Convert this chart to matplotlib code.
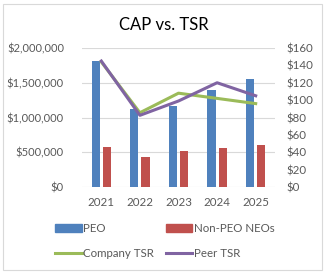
import matplotlib.pyplot as plt
import numpy as np
from matplotlib.patches import Rectangle
from matplotlib.lines import Line2D

# data
years = ['2021', '2022', '2023', '2024', '2025']
peo = [1817000, 1122000, 1170000, 1396000, 1554000]
non_peo = [580000, 436000, 522000, 565000, 609000]
company_tsr = [144, 85.5, 108, 102, 96]
peer_tsr = [145, 82.5, 99, 120, 105]

blue = '#4F81BD'
red = '#C0504D'
green = '#9BBB59'
purple = '#8064A2'
grid = '#D9D9D9'
txt = '#595959'

plt.rcParams['font.family'] = ['Lato', 'DejaVu Sans']

fig = plt.figure(figsize=(3.27, 2.74), dpi=100)
# light chart border
fig.patches.append(Rectangle((3 / 327, 4 / 274), 319 / 327, 266 / 274, transform=fig.transFigure,
                             fill=False, edgecolor='#D9D9D9', linewidth=0.8))

ax = fig.add_axes([82 / 327, 1 - 187 / 274, 193 / 327, 139 / 274])
x = np.arange(len(years))
w = 0.215
ax.bar(x - 0.145, peo, w, color=blue, zorder=2)
ax.bar(x + 0.145, non_peo, w, color=red, zorder=2)
ax.set_xlim(-0.5, len(years) - 0.5)
ax.set_ylim(0, 2000000)
ax.set_yticks(np.arange(0, 2000001, 500000))
ax.set_yticklabels(['$0', '$500,000', '$1,000,000', '$1,500,000', '$2,000,000'])
ax.set_xticks(x)
ax.set_xticklabels(years)
ax.grid(axis='y', color=grid, linewidth=0.8, zorder=0)
for s in ax.spines.values():
    s.set_visible(False)
ax.tick_params(length=0, labelsize=8, colors=txt, pad=13)
ax.tick_params(axis='x', labelsize=8.3, pad=7)

ax2 = ax.twinx()
ax2.plot(x, company_tsr, color=green, linewidth=2.2, zorder=3)
ax2.plot(x, peer_tsr, color=purple, linewidth=2.2, zorder=4)
ax2.set_ylim(0, 160)
ax2.set_yticks(np.arange(0, 161, 20))
ax2.set_yticklabels(['$' + str(v) for v in range(0, 161, 20)])
for s in ax2.spines.values():
    s.set_visible(False)
ax2.tick_params(length=0, labelsize=8.3, colors=txt, pad=8)

fig.text(0.5, 1 - 25 / 274, 'CAP vs. TSR', ha='center', va='center', fontsize=12, color='black')

handles = [Rectangle((0, 0), 1, 1, color=blue),
           Line2D([], [], color=green, linewidth=2.2),
           Rectangle((0, 0), 1, 1, color=red),
           Line2D([], [], color=purple, linewidth=2.2)]
labels = ['PEO', 'Company TSR', 'Non-PEO NEOs', 'Peer TSR']
fig.legend(handles, labels, ncol=2, loc='center', bbox_to_anchor=(165 / 327, 1 - 241 / 274),
           frameon=False, fontsize=8.3, labelcolor=txt, handlelength=2.3, handleheight=0.65,
           handletextpad=0.15, columnspacing=1.0, labelspacing=1.15, borderpad=0)

fig.savefig('out.png', dpi=100)
